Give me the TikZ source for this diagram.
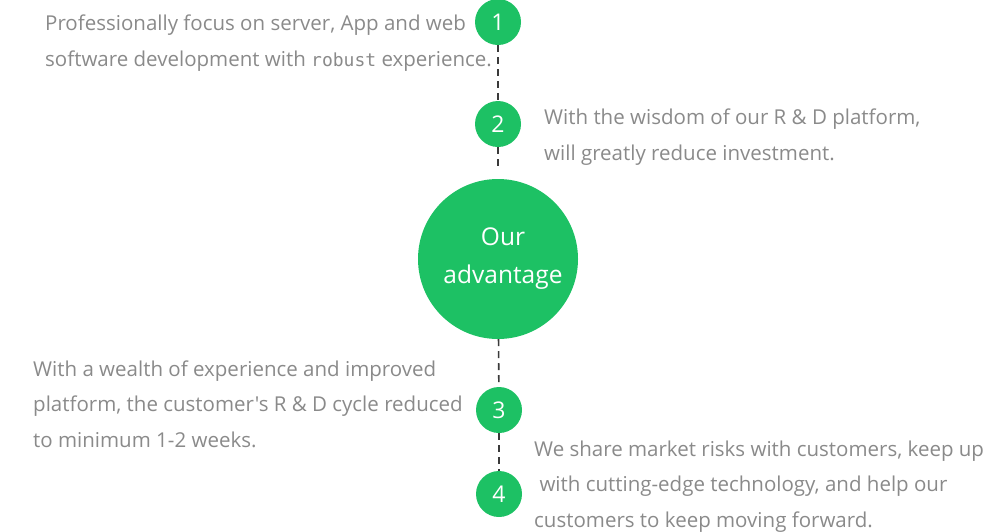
\documentclass[tikz,border=0pt]{standalone}
\usepackage{fontspec}
\setmainfont{Open Sans}[Ligatures=TeXOff]
\setmonofont{DejaVu Sans Mono}
\definecolor{advgreen}{HTML}{1DC164}
\definecolor{textgray}{HTML}{8A8A8A}
\definecolor{dashgray}{HTML}{3A3A3A}
\tikzset{
    numcircle/.style={circle, fill=advgreen, text=white, minimum size=46pt, inner sep=0pt, font=\fontsize{23}{28}\selectfont},
    bigcircle/.style={circle, fill=advgreen, text=white, minimum size=160pt, inner sep=0pt, align=center, font=\fontsize{24.5}{38}\selectfont},
    desc/.style={text=textgray, inner sep=0pt, align=left, anchor=base west, font=\fontsize{20.5}{35.5}\selectfont},
    link/.style={dashgray, line width=1.6pt, dash pattern=on 7pt off 5pt}
}
\begin{document}
\begin{tikzpicture}[x=1pt, y=-1pt]
    \useasboundingbox (0,0) rectangle (1003,531);

    % Center circle
    \node[bigcircle] (C) at (498,259) {\hspace*{10pt}Our\\\hspace*{10pt}advantage};

    % Numbered circles
    \node[numcircle] (N1) at (498,22) {1};
    \node[numcircle] (N2) at (498,124) {2};
    \node[numcircle] (N3) at (499,410) {3};
    \node[numcircle] (N4) at (499,494) {4};
    \coordinate (E2) at (498,170);

    % Dashed links
    \draw[link] (N1) -- (N2);
    \draw[link] (N2) -- (E2);
    \draw[link] (C) -- (N3);
    \draw[link] (N3) -- (N4);

    % Descriptions (anchored at the baseline of the last line)
    \node[desc] (T1) at (45,66) {Professionally focus on server, App and web\\software development with {\ttfamily\fontsize{18}{35.5}\selectfont robust} experience.};
    \node[desc] (T2) at (544,160) {With the wisdom of our R \& D platform,\\will greatly reduce investment.};
    \node[desc] (T3) at (33,447) {With a wealth of experience and improved\\platform, the customer's R \& D cycle reduced\\to minimum 1-2 weeks.};
    \node[desc] (T4) at (534,527) {We share market risks with customers, keep up\\\ with cutting-edge technology, and help our\\customers to keep moving forward.};
\end{tikzpicture}
\end{document}
